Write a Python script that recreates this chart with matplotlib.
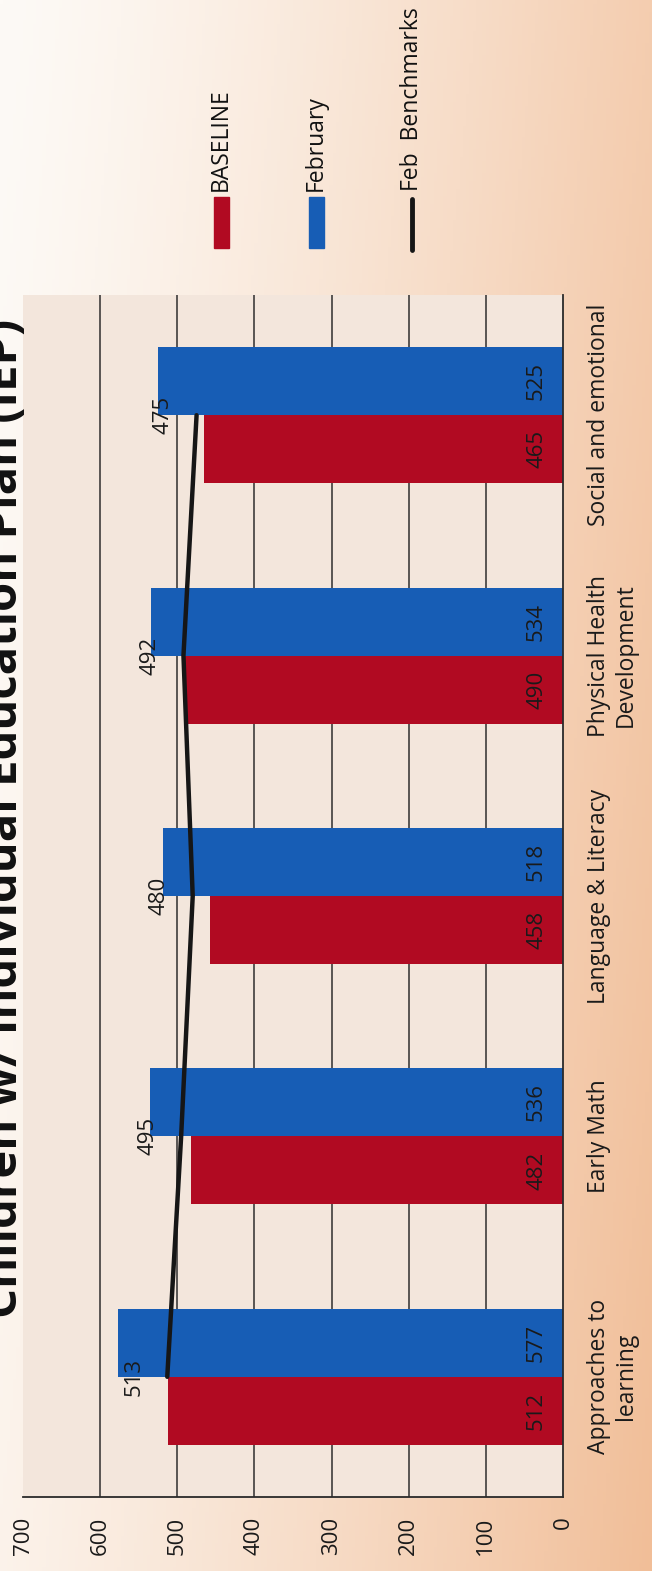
import numpy as np
import matplotlib
matplotlib.use("Agg")
import matplotlib.pyplot as plt
from matplotlib.patches import Rectangle
from matplotlib.lines import Line2D

# ---- data ----
categories = ["Approaches to\nlearning", "Early Math", "Language & Literacy",
              "Physical Health\nDevelopment", "Social and emotional"]
baseline = [512, 482, 458, 490, 465]
february = [577, 536, 518, 534, 525]
benchmarks = [513, 495, 480, 492, 475]
value_ticks = [0, 100, 200, 300, 400, 500, 600, 700]
title = "Children w/ Individual Education Plan (IEP)"
legend_labels = ["BASELINE", "February", "Feb  Benchmarks"]

RED = "#b10a22"
BLUE = "#175db5"
LINE = "#161616"
FONT = ["Open Sans", "DejaVu Sans"]
plt.rcParams["font.family"] = FONT

W, H = 652, 1571
fig = plt.figure(figsize=(W / 100, H / 100), dpi=100)

# background gradient
bg = fig.add_axes([0, 0, 1, 1], zorder=-10)
xx = np.linspace(0, 1, 200)[None, :]
yy = np.linspace(0, 1, 400)[:, None]
t = np.clip(0.8 * xx + 0.2 * yy, 0, 1) ** 1.3
c0 = np.array([253, 250, 246]) / 255
c1 = np.array([241, 190, 152]) / 255
img = c0[None, None, :] * (1 - t[..., None]) + c1[None, None, :] * t[..., None]
bg.imshow(img, aspect="auto", extent=[0, 1, 0, 1], origin="upper")
bg.set_axis_off()

def px(x, y):
    return x / W, 1 - y / H

ax = fig.add_axes([23 / W, 74 / H, 540 / W, 1202 / H])
ax.set_facecolor("#f3e6dc")

pos = np.arange(len(categories))
bh = 0.283
ax.barh(pos - bh / 2, baseline, height=bh, color=RED, zorder=2)
ax.barh(pos + bh / 2, february, height=bh, color=BLUE, zorder=2)
ax.plot(benchmarks, pos, color=LINE, lw=3.2, solid_capstyle="round", zorder=4)

for p, v in zip(pos, baseline):
    ax.annotate(str(v), xy=(0, p - bh / 2), xytext=(-19, 0), textcoords="offset points",
                rotation=90, ha="center", va="center", fontsize=16, color="#1a1a1a", zorder=5)
for p, v in zip(pos, february):
    ax.annotate(str(v), xy=(0, p + bh / 2), xytext=(-19, 0), textcoords="offset points",
                rotation=90, ha="center", va="center", fontsize=16, color="#1a1a1a", zorder=5)
for p, v in zip(pos, benchmarks):
    ax.annotate(str(v), xy=(v, p), xytext=(-24, 0), textcoords="offset points",
                rotation=90, ha="center", va="center", fontsize=16, color="#1a1a1a", zorder=5)

ax.set_xlim(700, 0)
ax.set_ylim(-0.5, len(categories) - 0.5)
ax.set_xticks(value_ticks)
ax.set_xticklabels([str(v) for v in value_ticks], rotation=90, fontsize=16, color="#1a1a1a")
ax.tick_params(axis="x", length=0, pad=14)
ax.yaxis.tick_right()
ax.set_yticks(pos)
ax.set_yticklabels(categories, rotation=90, fontsize=16.5, color="#1a1a1a",
                   va="center", ha="left", multialignment="center")
ax.tick_params(axis="y", length=0, pad=17)
ax.set_axisbelow(True)
ax.xaxis.grid(True, color="#2e2e2e", lw=1.1)
for gl, v in zip(ax.get_xgridlines(), value_ticks):
    if v in (0, 700):
        gl.set_visible(False)
for s in ("top", "left"):
    ax.spines[s].set_visible(False)
for s in ("right", "bottom"):
    ax.spines[s].set_color("#2a2a2a")
    ax.spines[s].set_linewidth(1.3)

# title (partially cut at left edge, as in the reference)
fig.text(*px(28, 818), title, rotation=90, ha="right", va="center", fontsize=34,
         fontweight="bold", color="#111111")

# legend
lx = [221, 316, 412]
fig.add_artist(Rectangle(px(214, 248), 15 / W, 51 / H, color=RED, transform=fig.transFigure))
fig.add_artist(Rectangle(px(309, 248), 15 / W, 51 / H, color=BLUE, transform=fig.transFigure))
fig.add_artist(Line2D([412 / W, 412 / W], [1 - 199 / H, 1 - 250 / H], color=LINE, lw=3.5,
                      solid_capstyle="round", transform=fig.transFigure))
for x, lab in zip(lx, legend_labels):
    fig.text(*px(x, 191), lab, rotation=90, ha="center", va="bottom", fontsize=16.5, color="#111111")

fig.savefig("out.png", dpi=100)
